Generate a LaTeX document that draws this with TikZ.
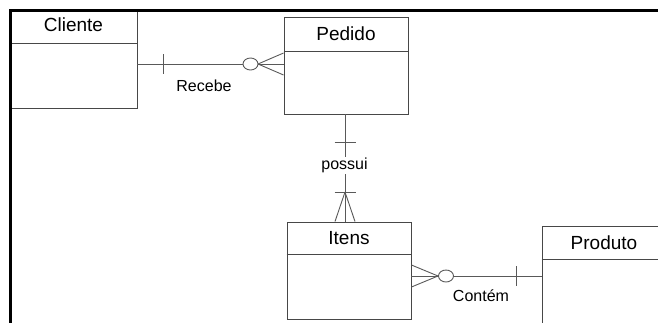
\documentclass[tikz,border=0pt]{standalone}
\usepackage{fontspec}
\setmainfont{Liberation Sans}
\begin{document}
\begin{tikzpicture}[x=1pt,y=-1pt,
  entbox/.style={draw=black!72, line width=0.9pt, rectangle, inner sep=0pt, minimum width=124pt, minimum height=97pt},
  divline/.style={draw=black!72, line width=0.9pt},
  conn/.style={draw=black!65, line width=0.9pt},
  title/.style={font=\fontsize{19}{21}\selectfont, anchor=base, inner sep=0pt},
  lab/.style={font=\fontsize{16}{18}\selectfont, anchor=base, fill=white, inner sep=1pt}]
\useasboundingbox (0,0) rectangle (658,322);
\clip (0,0) rectangle (658,322);
% entities
\node[entbox, minimum width=126.5pt, minimum height=97.5pt] (cli) at (73.75,59.25) {};
\node[entbox] (ped) at (346,65.5) {};
\node[entbox] (itens) at (349,270.5) {};
\node[entbox] (prod) at (604,274.5) {};
% dividers
\coordinate (dc) at (0,43);
\coordinate (dp) at (0,51);
\coordinate (di) at (0,254);
\coordinate (dpr) at (0,259);
\draw[divline] (cli.west |- dc) -- (cli.east |- dc);
\draw[divline] (ped.west |- dp) -- (ped.east |- dp);
\draw[divline] (itens.west |- di) -- (itens.east |- di);
\draw[divline] (prod.west |- dpr) -- (prod.east |- dpr);
% titles
\node[title] (tcli) at (73.5,31) {Cliente};
\node[title] (tped) at (346,40) {Pedido};
\node[title] (titens) at (349,244.5) {Itens};
\node[title] (tprod) at (604,249) {Produto};
% frame
\draw[line width=2.5pt] (10.5,323) -- (10.5,10.5) -- (659,10.5);
% Cliente - Pedido
\coordinate (r1) at (0,64);
\draw[conn] (cli.east |- r1) -- (ped.west |- r1);
\draw[conn] (163,54) -- (163,74);
\draw[conn] (258,64) -- (ped.west |- 0,53);
\draw[conn] (258,64) -- (ped.west |- 0,75);
\draw[conn, fill=white] (250.5,64) ellipse [x radius=7.5, y radius=6];
\node[lab] (recebe) at (204,91.7) {Recebe};
% Pedido - Itens
\coordinate (vx) at (345,0);
\draw[conn] (ped.south -| vx) -- (itens.north -| vx);
\draw[conn] (334.5,142) -- (355.5,142);
\draw[conn] (334.5,192) -- (355.5,192);
\draw[conn] (345,192) -- (itens.north -| 335,0);
\draw[conn] (345,192) -- (itens.north -| 355,0);
\node[lab] (possui) at (344.5,169.3) {possui};
% Itens - Produto
\coordinate (r2) at (0,276);
\draw[conn] (itens.east |- r2) -- (prod.west |- r2);
\draw[conn] (438,276) -- (itens.east |- 0,265);
\draw[conn] (438,276) -- (itens.east |- 0,287);
\draw[conn, fill=white] (446,276) ellipse [x radius=7.5, y radius=6];
\draw[conn] (516,266) -- (516,286);
\node[lab] (contem) at (481,301) {Contém};
\end{tikzpicture}
\end{document}
